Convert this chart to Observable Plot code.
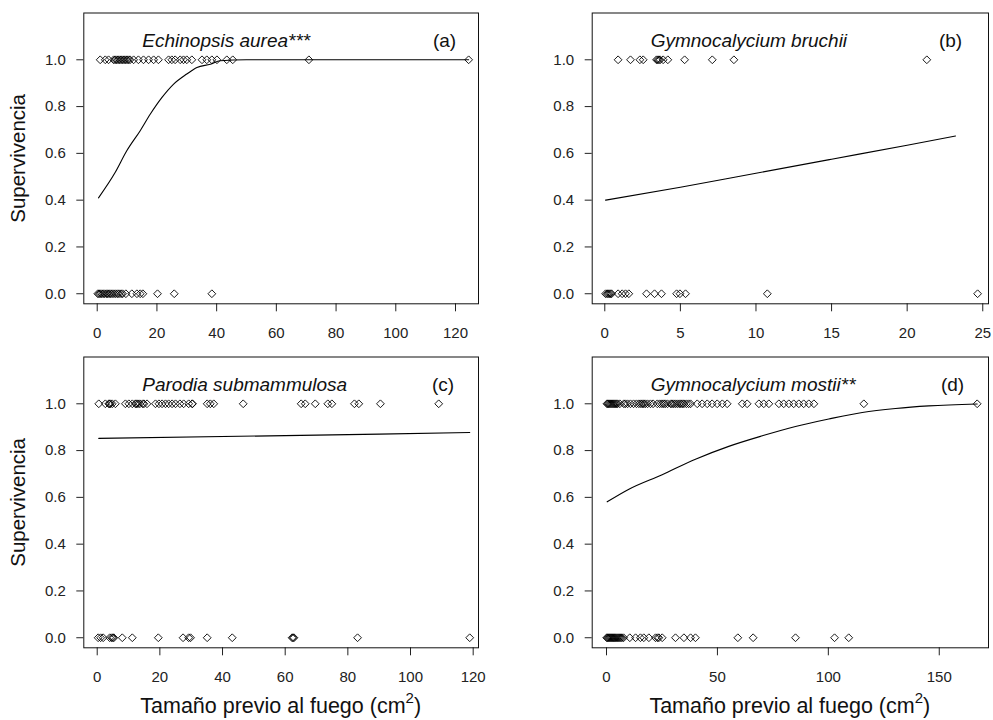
<!DOCTYPE html>
<html><head><meta charset="utf-8">
<script src="https://cdn.jsdelivr.net/npm/d3@7"></script>
<script src="https://cdn.jsdelivr.net/npm/@observablehq/plot@0.6"></script>
<style>
body{margin:0;background:#fff;}
#chart{position:relative;width:993px;height:720px;background:#fff;}
#chart svg{position:absolute;}
</style></head><body><div id="chart"></div>
<script>
// ---------- data ----------
const titles = ["Echinopsis aurea***", "Gymnocalycium bruchii", "Parodia submammulosa", "Gymnocalycium mostii**"];
const tags = ["(a)", "(b)", "(c)", "(d)"];
const yLabel = "Supervivencia";
const xLabel = "Tamaño previo al fuego (cm";
const yTicks = [0, 0.2, 0.4, 0.6, 0.8, 1.0];
const xTicksA = [0, 20, 40, 60, 80, 100, 120];
const xTicksB = [0, 5, 10, 15, 20, 25];
const xTicksC = [0, 20, 40, 60, 80, 100, 120];
const xTicksD = [0, 50, 100, 150];

// (a) Echinopsis aurea
const aliveA = [1.0, 2.7, 3.8, 5.5, 6.0, 6.5, 7.0, 7.5, 8.0, 8.5, 9.0, 9.5, 10.0, 10.5, 11.0, 12.2, 13.8, 15.5, 17.2, 18.9, 20.5, 23.9, 25.0, 26.1, 27.8, 28.9, 30.0, 31.7, 35.1, 36.7, 38.4, 40.1, 43.4, 45.4, 70.9, 124.4];
const deadA = [0.2, 0.6, 1.0, 1.5, 2.0, 2.5, 3.1, 3.5, 4.0, 4.5, 5.0, 5.6, 6.2, 6.8, 7.3, 8.0, 8.5, 9.6, 11.6, 13.3, 14.4, 15.3, 20.2, 25.8, 38.4];
const fitXA = [0.44, 6.0, 9.9, 14.4, 17.8, 21.7, 25.6, 30.0, 33.4, 37.9, 41.2, 50, 124.4];
const fitYA = [0.41, 0.518, 0.611, 0.697, 0.768, 0.839, 0.896, 0.939, 0.967, 0.981, 0.996, 1.0, 1.0];

// (b) Gymnocalycium bruchii
const aliveB = [0.88, 1.70, 2.32, 2.54, 3.42, 3.50, 3.58, 3.66, 3.86, 4.17, 5.28, 7.11, 8.54, 21.3];
const deadB = [0.05, 0.15, 0.22, 0.30, 0.38, 0.45, 0.88, 1.15, 1.37, 1.59, 2.76, 3.29, 3.75, 4.75, 4.97, 5.34, 10.75, 24.66];
const fitXB = [0.05, 5, 10, 15, 20, 23.2];
const fitYB = [0.40, 0.455, 0.515, 0.575, 0.635, 0.674];

// (c) Parodia submammulosa
const aliveC = [0.5, 2.6, 3.7, 3.9, 4.2, 4.8, 5.8, 9.0, 10.1, 11.2, 12.2, 12.5, 13.0, 13.6, 14.5, 14.9, 15.9, 18.6, 19.7, 20.7, 21.8, 22.8, 23.9, 25.0, 26.4, 27.6, 29.2, 30.3, 30.4, 35.1, 36.1, 37.2, 46.6, 65.1, 66.4, 69.6, 73.6, 74.9, 82.1, 83.5, 90.4, 109.0];
const deadC = [0.3, 1.1, 1.9, 4.0, 4.6, 5.0, 5.3, 8.0, 11.2, 19.5, 27.4, 29.2, 29.8, 35.1, 43.1, 62.2, 62.5, 62.8, 83.1, 118.9];
const fitXC = [0.5, 60, 118.9];
const fitYC = [0.852, 0.864, 0.877];

// (d) Gymnocalycium mostii
const aliveD = [0.2, 0.6, 1.0, 1.5, 2.0, 2.5, 3.0, 3.5, 4.0, 4.5, 5.0, 6.0, 7.8, 8.5, 9.5, 10.8, 12.2, 13.5, 14.6, 15.5, 16.2, 16.8, 17.5, 18.5, 19.8, 21.0, 22.9, 24.0, 25.0, 25.8, 26.5, 27.5, 28.9, 29.5, 30.2, 31.0, 31.9, 32.8, 33.5, 34.2, 34.9, 36.0, 37.0, 37.9, 40.9, 43.1, 45.4, 47.6, 49.9, 52.2, 54.4, 61.2, 63.4, 68.7, 70.9, 73.2, 77.7, 79.9, 82.2, 84.4, 86.7, 88.9, 91.2, 93.5, 116.0, 167.1];
const deadD = [0.1, 0.4, 0.8, 1.2, 1.6, 2.0, 2.4, 2.8, 3.2, 3.6, 4.0, 4.5, 5.0, 5.5, 6.0, 6.5, 7.0, 7.7, 10.5, 13.1, 15.3, 16.8, 19.1, 22.1, 23.0, 23.6, 25.1, 31.1, 34.9, 37.9, 40.1, 59.2, 66.1, 85.2, 102.8, 109.2];
const fitXD = [0.3, 10.1, 25.1, 40.1, 55.1, 70.2, 85.2, 100.2, 115.3, 130.3, 145.3, 167.1];
const fitYD = [0.581, 0.635, 0.697, 0.763, 0.818, 0.863, 0.903, 0.935, 0.963, 0.980, 0.991, 0.999];

// ---------- drawing ----------
const FONT = "'Liberation Sans', Arial, Helvetica, sans-serif";
const chart = document.getElementById("chart");

function panel(cfg) {
  const pts = cfg.alive.map(x => ({x, y: 1})).concat(cfg.dead.map(x => ({x, y: 0})));
  const fit = cfg.fitX.map((x, i) => ({x, y: cfg.fitY[i]}));
  const marks = [
    Plot.axisX({ticks: cfg.xTicks, tickSize: 8, tickPadding: 15.5, tickFormat: d => String(d), label: null, fontSize: 15}),
    Plot.axisY({ticks: yTicks, tickSize: 7, tickPadding: 11, tickFormat: d3.format(".1f"), label: null, fontSize: 15}),
    Plot.line(fit, {x: "x", y: "y", stroke: "#000", strokeWidth: 1.1, curve: "monotone-x"}),
    Plot.dot(pts, {x: "x", y: "y", symbol: "diamond2", r: 3.5, stroke: "#000", strokeWidth: 0.9, fill: "none"}),
    Plot.frame({stroke: "#111", strokeWidth: 1}),
    Plot.text([cfg.title], {text: d => d, frameAnchor: "top-left", dx: 58.5, dy: 27.6, textAnchor: "start", lineAnchor: "middle", fontStyle: "italic", fontSize: 19, fill: "#111"}),
    Plot.text([cfg.tag], {text: d => d, frameAnchor: "top-right", dx: cfg.tagDx, dy: 27.6, textAnchor: "middle", lineAnchor: "middle", fontSize: 19, fill: "#111"})
  ];
  if (cfg.showY) {
    marks.push(Plot.text([yLabel], {text: d => d, frameAnchor: "left", dx: -64.9, rotate: -90, textAnchor: "middle", lineAnchor: "middle", fontSize: 20.5, fill: "#111"}));
  }
  const svg = Plot.plot({
    width: cfg.w, height: cfg.h,
    marginLeft: cfg.ml, marginRight: cfg.mr, marginTop: 12.5, marginBottom: cfg.mb,
    style: {fontFamily: FONT, fontSize: "15px", color: "#222", background: "white", overflow: "visible"},
    x: {domain: cfg.xDomain},
    y: {domain: [-0.043, 1.2]},
    marks
  });
  svg.style.left = cfg.left + "px";
  svg.style.top = cfg.top + "px";
  if (cfg.showX) {
    const t = d3.select(svg).append("text")
      .attr("x", cfg.xTitleX).attr("y", cfg.xTitleY)
      .attr("text-anchor", "middle")
      .attr("font-family", FONT).attr("font-size", 21.5).attr("fill", "#111");
    t.append("tspan").text(xLabel);
    t.append("tspan").attr("dy", -10).attr("font-size", 15).text("2");
    t.append("tspan").attr("dy", 10).text(")");
  }
  chart.appendChild(svg);
}

panel({title: titles[0], tag: tags[0], tagDx: -34, alive: aliveA, dead: deadA, fitX: fitXA, fitY: fitYA,
  xTicks: xTicksA, xDomain: [-4.49, 127.7], left: 0, top: 0, w: 496, h: 340, ml: 83.3, mr: 18, mb: 36.7, showY: true, showX: false});
panel({title: titles[1], tag: tags[1], tagDx: -38, alive: aliveB, dead: deadB, fitX: fitXB, fitY: fitYB,
  xTicks: xTicksB, xDomain: [-0.833, 25.38], left: 496, top: 0, w: 497, h: 340, ml: 95.7, mr: 5, mb: 36.7, showY: false, showX: false});
panel({title: titles[2], tag: tags[2], tagDx: -35.5, alive: aliveC, dead: deadC, fitX: fitXC, fitY: fitYC,
  xTicks: xTicksC, xDomain: [-4.28, 121.7], left: 0, top: 344, w: 496, h: 376, ml: 83.3, mr: 18, mb: 72.7, showY: true, showX: true, xTitleX: 280.7, xTitleY: 369});
panel({title: titles[3], tag: tags[3], tagDx: -36, alive: aliveD, dead: deadD, fitX: fitXD, fitY: fitYD,
  xTicks: xTicksD, xDomain: [-6.45, 172.2], left: 496, top: 344, w: 497, h: 376, ml: 95.7, mr: 5, mb: 72.7, showY: false, showX: true, xTitleX: 293.8, xTitleY: 369});
</script></body></html>
